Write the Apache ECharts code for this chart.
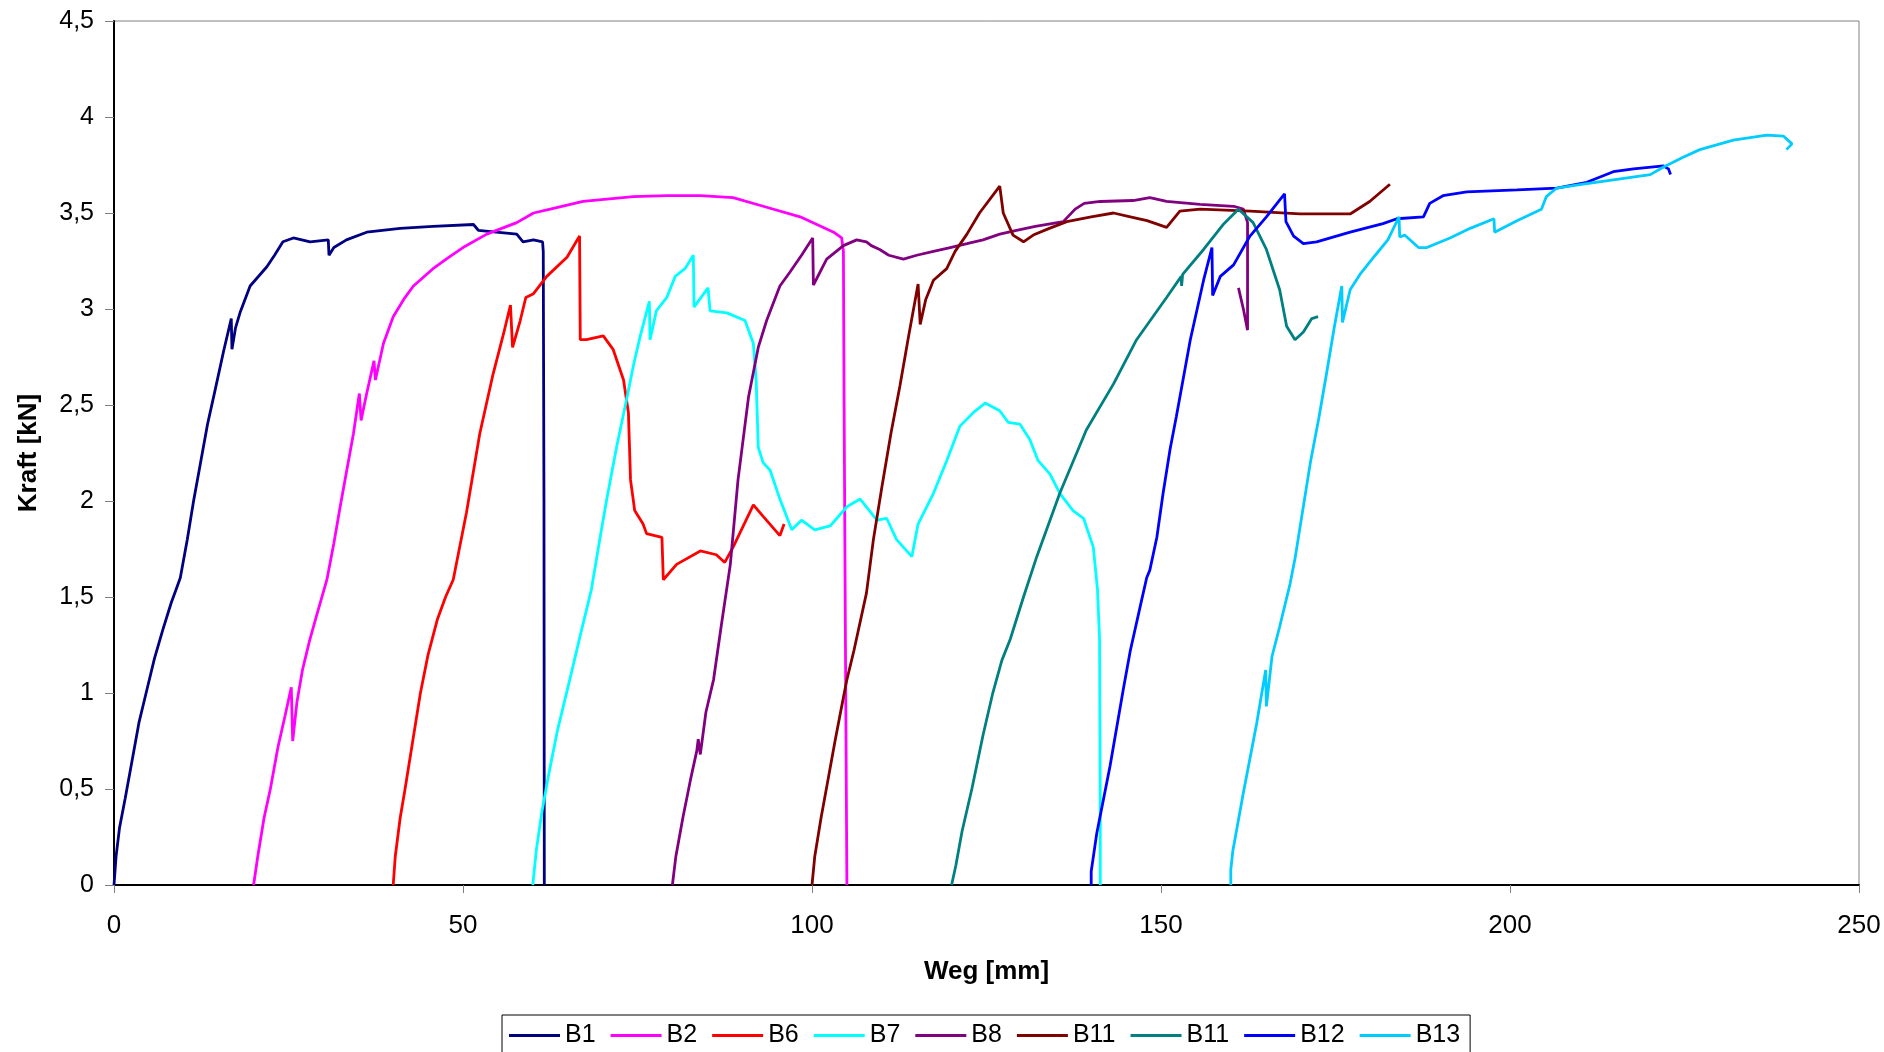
<!DOCTYPE html>
<html>
<head>
<meta charset="utf-8">
<script src="https://cdn.jsdelivr.net/npm/echarts@6/dist/echarts.min.js"></script>
<style>
html,body{margin:0;padding:0;background:#fff;}
#chart{width:1884px;height:1052px;}
</style>
</head>
<body>
<div id="chart"></div>
<script>
// Series names (legend order)
const seriesNames = ['B1','B2','B6','B7','B8','B11','B11','B12','B13'];
const seriesColors = ['#000080','#FF00FF','#FF0000','#00FFFF','#800080','#800000','#008080','#0000FF','#00CCFF'];

// [Weg mm, Kraft kN]
const b1 = [[0,0],[0.3,0.15],[0.8,0.3],[1.6,0.45],[2.6,0.65],[3.6,0.85],[4.6,1.0],[5.8,1.18],[7,1.33],[8.2,1.47],[9.0,1.55],[9.5,1.6],[10.5,1.8],[11.4,2.0],[12.3,2.18],[13.4,2.4],[14.5,2.58],[15.7,2.78],[16.8,2.95],[16.9,2.79],[17.4,2.9],[18.05,2.98],[19.5,3.12],[21.9,3.22],[23,3.28],[24.2,3.35],[25.7,3.37],[28.1,3.35],[30.7,3.36],[30.8,3.28],[31.5,3.32],[33.3,3.36],[36.2,3.40],[41,3.42],[45.7,3.43],[51.5,3.44],[52.2,3.41],[57.7,3.39],[58.6,3.35],[60.1,3.36],[61.4,3.35],[61.5,3.3],[61.6,2],[61.65,0]];
const b2 = [[20,0],[20.6,0.15],[21.5,0.35],[22.4,0.5],[23.5,0.72],[24.5,0.88],[25.4,1.03],[25.6,0.75],[26.2,0.95],[27,1.12],[28,1.27],[29,1.4],[30.5,1.59],[31.5,1.78],[32.4,1.97],[33.4,2.17],[34.3,2.35],[35.15,2.56],[35.4,2.42],[36.2,2.56],[37.25,2.73],[37.45,2.63],[38.6,2.82],[40,2.96],[41.5,3.05],[42.9,3.12],[45.7,3.21],[48,3.27],[50,3.32],[53.4,3.39],[57.7,3.45],[60.1,3.5],[62.5,3.52],[67.2,3.56],[74.4,3.585],[79.2,3.59],[84,3.59],[88.7,3.58],[93.5,3.53],[98.3,3.48],[103.1,3.4],[104.25,3.37],[104.5,3.3],[104.6,2.5],[104.8,1.2],[105,0]];
const b6 = [[40,0],[40.3,0.15],[41,0.35],[41.7,0.5],[42.8,0.75],[43.9,1.0],[45,1.2],[46.3,1.38],[47.5,1.5],[48.6,1.59],[50.5,1.94],[52.4,2.35],[54.3,2.66],[55.8,2.87],[56.8,3.02],[57.1,2.8],[58.2,2.94],[59,3.06],[60.1,3.08],[62,3.17],[64.9,3.27],[66.7,3.38],[66.8,2.84],[67.7,2.84],[70.1,2.86],[71.5,2.79],[73,2.63],[73.7,2.46],[74,2.11],[74.6,1.95],[75.8,1.88],[76.3,1.83],[78.5,1.81],[78.7,1.59],[80.6,1.67],[84,1.74],[86.3,1.72],[87.5,1.68],[88.7,1.76],[91.6,1.98],[93,1.92],[95.4,1.82],[96,1.88]];
const b7 = [[60,0],[60.5,0.18],[61.3,0.38],[62.3,0.58],[63.5,0.8],[64.5,0.95],[65.3,1.07],[66.8,1.3],[68.4,1.54],[69.5,1.78],[70.6,2.01],[72,2.28],[73.5,2.54],[74.5,2.72],[75.4,2.86],[76.7,3.04],[76.8,2.84],[77.7,2.99],[79.2,3.06],[80.4,3.17],[81.8,3.21],[83,3.28],[83.1,3.01],[85.1,3.11],[85.4,2.99],[87.8,2.98],[90.4,2.94],[91.6,2.82],[92,2.63],[92.3,2.28],[93,2.2],[94,2.16],[95.4,2.01],[97.1,1.85],[98.5,1.9],[100.4,1.85],[102.6,1.87],[105,1.97],[106.9,2.01],[109.3,1.9],[110.7,1.91],[112.1,1.8],[114.3,1.71],[115.2,1.88],[117.4,2.04],[119.3,2.21],[121.2,2.39],[123.1,2.46],[124.8,2.51],[126.9,2.47],[128.1,2.41],[129.8,2.4],[131.2,2.32],[132.4,2.21],[134.1,2.14],[135.5,2.04],[137.4,1.95],[138.9,1.91],[140.3,1.76],[140.9,1.54],[141.2,1.28],[141.3,0.36],[141.3,0]];
const b8 = [[80,0],[80.5,0.15],[81.5,0.35],[82.6,0.55],[83.5,0.7],[83.7,0.76],[84,0.68],[84.8,0.9],[85.9,1.07],[87,1.35],[88.3,1.67],[89.4,2.11],[90.9,2.54],[92.3,2.8],[93.5,2.94],[95.4,3.12],[96.8,3.19],[98.5,3.28],[100.1,3.37],[100.2,3.125],[102.1,3.26],[104.5,3.33],[106.4,3.36],[107.8,3.35],[108.5,3.33],[109.7,3.31],[111,3.28],[113.1,3.26],[115,3.28],[117.4,3.3],[119.8,3.32],[122.2,3.34],[124.5,3.36],[126.9,3.39],[129.3,3.41],[132,3.43],[136,3.455],[137.7,3.52],[139,3.55],[141.3,3.56],[146,3.565],[148.4,3.58],[150.8,3.56],[155.6,3.545],[160.4,3.535],[161.8,3.52],[162.4,3.45],[162.4,2.89],[161.8,3.0],[161.1,3.11]];
const b11a = [[100,0],[100.4,0.15],[101.3,0.35],[102.3,0.55],[103.3,0.75],[104.2,0.92],[105,1.07],[106,1.22],[107.8,1.52],[108.8,1.8],[110,2.07],[111.3,2.35],[112.6,2.6],[113.8,2.85],[115.2,3.13],[115.5,2.92],[116.3,3.05],[117.4,3.15],[119.3,3.21],[120.5,3.3],[122.2,3.39],[124,3.5],[126.9,3.64],[127.4,3.5],[128.8,3.385],[130.3,3.35],[131.7,3.385],[134,3.42],[136.5,3.455],[140,3.48],[143.2,3.5],[145.6,3.48],[148,3.46],[150.8,3.425],[152.7,3.51],[155.6,3.52],[162.8,3.51],[169.9,3.495],[177.1,3.495],[179.9,3.56],[182.8,3.65]];
const b11b = [[120,0],[120.6,0.1],[121.5,0.28],[122.9,0.5],[124.5,0.78],[125.9,1.0],[127.2,1.17],[128.4,1.28],[130.3,1.5],[132.2,1.71],[135.5,2.04],[139.3,2.37],[143.2,2.61],[146.5,2.84],[150.8,3.06],[152.9,3.17],[152.95,3.12],[153.1,3.18],[156.1,3.31],[158.9,3.44],[161.1,3.52],[163.2,3.45],[165.1,3.31],[167,3.1],[168,2.91],[169.2,2.84],[170.4,2.88],[171.6,2.95],[172.5,2.96]];
const b12 = [[140,0],[140,0.07],[140.8,0.27],[142.7,0.62],[144.6,1.02],[145.6,1.22],[147.2,1.48],[147.95,1.6],[148.4,1.64],[149.4,1.81],[150.3,2.04],[151.3,2.27],[152.2,2.44],[154.2,2.84],[156.1,3.15],[157.3,3.32],[157.4,3.07],[158.5,3.17],[160.4,3.23],[162.75,3.38],[165.1,3.48],[167.7,3.6],[167.9,3.455],[169,3.38],[170.4,3.34],[172.3,3.35],[177.1,3.4],[181.8,3.445],[183.8,3.47],[187.6,3.48],[188.5,3.55],[190.4,3.59],[193.8,3.61],[201,3.62],[206.7,3.63],[211,3.66],[214.8,3.715],[217.7,3.73],[222,3.745],[222.7,3.73],[223,3.7]];
const b13 = [[160,0],[160,0.08],[160.3,0.18],[161.8,0.48],[163.7,0.84],[165,1.12],[165.1,0.93],[165.9,1.19],[167,1.345],[168.5,1.57],[169.2,1.7],[170.3,1.95],[171.4,2.2],[172.6,2.43],[173.7,2.66],[174.8,2.9],[175.9,3.12],[176,2.93],[177.1,3.1],[178.5,3.18],[180.7,3.28],[182.5,3.36],[184.1,3.48],[184.2,3.375],[184.9,3.385],[186.9,3.32],[188.1,3.32],[191.4,3.37],[194.3,3.42],[197.7,3.47],[197.8,3.4],[201,3.46],[204.5,3.52],[205.2,3.585],[206.7,3.63],[210.5,3.65],[215.3,3.675],[220.1,3.7],[222,3.74],[224.8,3.79],[227.2,3.83],[232,3.88],[236.8,3.906],[239.2,3.9],[240.4,3.86],[239.6,3.83]];

const seriesData = [b1,b2,b6,b7,b8,b11a,b11b,b12,b13];

const FONT = '"Liberation Sans", Arial, sans-serif';
const chart = echarts.init(document.getElementById('chart'), null, {renderer:'canvas'});
chart.setOption({
  animation: false,
  backgroundColor: '#ffffff',
  grid: {left:114, right:25, top:21, bottom:167, show:true, borderColor:'#808080', borderWidth:1, backgroundColor:'transparent'},
  legend: {
    left: 502, top: 1015,
    orient: 'horizontal',
    icon: 'rect', itemWidth: 51, itemHeight: 3, itemGap: 15,
    padding: [8, 10, 8, 7],
    borderColor: '#000', borderWidth: 1,
    textStyle: {fontFamily: FONT, fontSize: 25, color: '#000'},
    data: seriesNames.map((n, i) => ({name: n + '\u200b'.repeat(i), itemStyle: {color: seriesColors[i]}}))
  },
  xAxis: {
    type: 'value', min: 0, max: 250, interval: 50,
    name: 'Weg [mm]', nameLocation: 'middle', nameGap: 74,
    nameTextStyle: {fontFamily: FONT, fontSize: 26, fontWeight: 'bold', color: '#000'},
    axisLine: {onZero:false, lineStyle: {color: '#000', width: 2}},
    axisTick: {show: true, length: 8, lineStyle: {color: '#808080', width: 1}},
    axisLabel: {fontFamily: FONT, fontSize: 26, color: '#000', margin: 28},
    splitLine: {show: false}
  },
  yAxis: {
    type: 'value', min: 0, max: 4.5, interval: 0.5,
    name: 'Kraft [kN]', nameLocation: 'middle', nameGap: 72,
    nameTextStyle: {fontFamily: FONT, fontSize: 26, fontWeight: 'bold', color: '#000'},
    axisLine: {show: true, onZero:false, lineStyle: {color: '#000', width: 2}},
    axisTick: {show: true, length: 9, lineStyle: {color: '#808080', width: 1}},
    axisLabel: {fontFamily: FONT, fontSize: 25, color: '#000', margin: 20,
      formatter: v => String(v).replace('.', ',')},
    splitLine: {show: false}
  },
  series: seriesData.map((d, i) => ({
    name: seriesNames[i] + '\u200b'.repeat(i),
    type: 'line',
    data: d,
    showSymbol: false,
    symbol: 'none',
    lineStyle: {color: seriesColors[i], width: 2.8},
    itemStyle: {color: seriesColors[i]},
    emphasis: {disabled: true}
  }))
});
</script>
</body>
</html>
